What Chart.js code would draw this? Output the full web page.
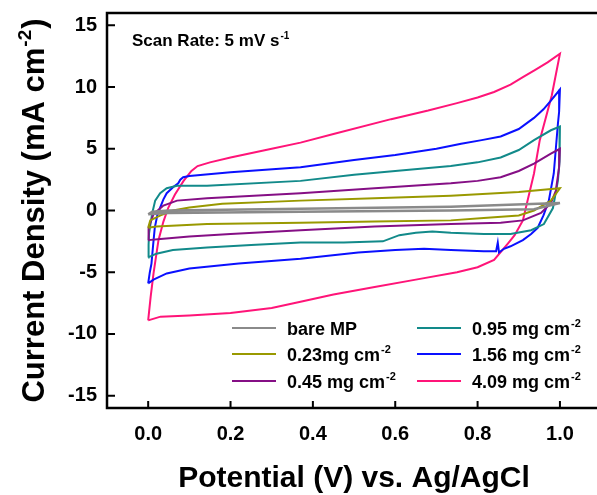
<!DOCTYPE html>
<html>
<head>
<meta charset="utf-8">
<script src="https://cdn.jsdelivr.net/npm/chart.js@4/dist/chart.umd.min.js"></script>
<style>
  html, body { margin: 0; padding: 0; background: #fff; }
  canvas { display: block; }
</style>
</head>
<body>
<canvas id="cvChart" width="597" height="495"></canvas>
<script>
// Cyclic voltammograms, [potential V, current density mA cm-2], anodic sweep then cathodic
const bareMP = [[0, -0.3], [0.01, -0.1], [0.05, 0], [0.37, 0.15], [0.735, 0.3], [1.0, 0.6],
  [0.937, 0.1], [0.735, 0], [0.37, -0.1], [0.05, -0.2], [0, -0.3]];

const load023 = [[0, -1.4], [0.005, -0.8], [0.03, -0.4], [0.06, 0], [0.1, 0.24], [0.18, 0.55],
  [0.37, 0.8], [0.55, 1.0], [0.735, 1.2], [0.9, 1.5], [1.0, 1.8],
  [0.978, 0.8], [0.937, 0], [0.9, -0.4], [0.815, -0.6], [0.735, -0.8], [0.55, -0.9],
  [0.37, -1.0], [0.143, -1.1], [0.02, -1.3], [0, -1.4]];

const load045 = [[0, -2.4], [0.001, -1.4], [0.013, -0.3], [0.037, 0.4], [0.07, 0.8], [0.143, 1.0],
  [0.37, 1.4], [0.55, 1.8], [0.735, 2.2], [0.8, 2.4], [0.856, 2.7], [0.9, 3.2], [0.937, 3.8],
  [0.978, 4.6], [1.0, 5.0],
  [0.998, 3.5], [0.99, 1.6], [0.978, 0.6], [0.954, -0.2], [0.91, -0.8], [0.856, -1.0],
  [0.735, -1.1], [0.55, -1.3], [0.37, -1.6], [0.2, -1.9], [0.1, -2.1], [0.03, -2.3], [0, -2.4]];

const load095 = [[0, -3.8], [0.001, -2.8], [0.002, -1.9], [0.006, -1.0], [0.01, -0.2], [0.017, 0.8],
  [0.029, 1.4], [0.045, 1.8], [0.07, 2.0], [0.143, 2.0], [0.37, 2.4], [0.5, 2.9], [0.6, 3.2],
  [0.735, 3.6], [0.8, 3.9], [0.856, 4.3], [0.9, 4.9], [0.937, 5.7], [0.978, 6.5], [1.0, 6.8],
  [1.0, 5.7], [0.998, 4.0], [0.995, 2.4], [0.983, 0.2], [0.961, -1.1], [0.93, -1.6], [0.88, -1.9],
  [0.815, -1.9], [0.735, -1.8], [0.69, -1.7], [0.65, -1.8], [0.61, -2.0], [0.57, -2.5],
  [0.475, -2.6], [0.37, -2.6], [0.25, -2.8], [0.143, -3.0], [0.06, -3.2], [0.02, -3.5], [0, -3.8]];

const load156 = [[0, -5.9], [0.004, -5.0], [0.008, -4.3], [0.012, -2.8], [0.016, -1.4], [0.022, -0.4],
  [0.029, 0.24], [0.037, 0.9], [0.045, 1.4], [0.061, 1.9], [0.073, 2.2], [0.078, 2.5], [0.085, 2.7],
  [0.1, 2.8], [0.2, 3.1], [0.37, 3.5], [0.5, 4.1], [0.6, 4.5], [0.7, 5.0], [0.76, 5.4], [0.81, 5.7],
  [0.856, 6.0], [0.9, 6.6], [0.937, 7.5], [0.96, 8.2], [0.978, 8.9], [1.0, 9.8],
  [0.998, 8.0], [0.995, 7.0], [0.99, 5.0], [0.985, 3.0], [0.973, 0.8], [0.96, -0.4], [0.946, -1.4],
  [0.93, -1.9], [0.91, -2.4], [0.88, -2.9], [0.864, -3.1], [0.852, -3.4], [0.849, -2.6],
  [0.845, -3.3], [0.815, -3.3], [0.735, -3.2], [0.67, -3.1], [0.6, -3.2], [0.51, -3.4],
  [0.37, -3.9], [0.22, -4.3], [0.1, -4.7], [0.045, -5.1], [0.013, -5.6], [0, -5.9]];

const load409 = [[0, -8.9], [0.006, -7.0], [0.013, -5.1], [0.025, -2.4], [0.037, -0.9], [0.049, 0.24],
  [0.065, 1.3], [0.086, 2.4], [0.105, 3.2], [0.12, 3.6], [0.15, 3.9], [0.2, 4.3], [0.3, 5.0],
  [0.37, 5.5], [0.45, 6.2], [0.59, 7.4], [0.68, 8.1], [0.75, 8.7], [0.8, 9.15], [0.84, 9.6],
  [0.88, 10.2], [0.91, 10.8], [0.94, 11.4], [0.97, 12.0], [1.0, 12.7],
  [0.98, 9.3], [0.951, 5.7], [0.937, 3.0], [0.92, 0.6], [0.91, -0.8], [0.89, -2.0], [0.873, -2.7],
  [0.84, -4.0], [0.8, -4.6], [0.75, -5.0], [0.65, -5.6], [0.55, -6.2], [0.45, -6.8], [0.37, -7.4],
  [0.3, -7.9], [0.2, -8.3], [0.1, -8.5], [0.03, -8.6], [0, -8.9]];

const seriesData = [bareMP, load023, load045, load095, load156, load409];
const seriesLabels = ['bare MP', '0.23mg cm^-2', '0.45 mg cm^-2', '0.95 mg cm^-2', '1.56 mg cm^-2', '4.09 mg cm^-2'];
const seriesColors = ['#8a8a8a', '#999900', '#850f85', '#128a8a', '#0a10ff', '#ff1478'];
const seriesWidths = [2.5, 2, 2, 2, 2, 2];

const xTicks = [0, 0.2, 0.4, 0.6, 0.8, 1.0];
const yTicks = [-15, -10, -5, 0, 5, 10, 15];

const FONT = 'Arial, "Liberation Sans", sans-serif';

// draws text where "^xx" marks a superscript tail, returns width
function richText(ctx, str, x, y, size, measureOnly) {
    const parts = str.split('^');
    let cx = x;
    ctx.font = 'bold ' + size + 'px ' + FONT;
    if (!measureOnly) ctx.fillText(parts[0], cx, y);
    cx += ctx.measureText(parts[0]).width;
    if (parts[1]) {
        const s = Math.round(size * 0.6);
        ctx.font = 'bold ' + s + 'px ' + FONT;
        if (!measureOnly) ctx.fillText(parts[1], cx + 1, y - size * 0.42);
        cx += ctx.measureText(parts[1]).width + 1;
        if (parts[2]) {
            ctx.font = 'bold ' + size + 'px ' + FONT;
            if (!measureOnly) ctx.fillText(parts[2], cx + 1, y);
            cx += ctx.measureText(parts[2]).width + 1;
        }
    }
    return cx - x;
}

const framePlugin = {
    id: 'frame',
    afterDraw(chart) {
        const ctx = chart.ctx;
        const area = chart.chartArea;
        const xs = chart.scales.x;
        const ys = chart.scales.y;
        ctx.save();
        ctx.fillStyle = '#000';
        ctx.strokeStyle = '#000';

        // axis lines: left, bottom and top
        ctx.lineWidth = 2.5;
        ctx.beginPath();
        ctx.moveTo(chart.width, area.top);
        ctx.lineTo(area.left, area.top);
        ctx.lineTo(area.left, area.bottom);
        ctx.lineTo(chart.width, area.bottom);
        ctx.stroke();

        // inward tick marks
        ctx.lineWidth = 2;
        ctx.beginPath();
        xs.ticks.forEach(t => {
            const px = xs.getPixelForValue(t.value);
            ctx.moveTo(px, area.bottom);
            ctx.lineTo(px, area.bottom - 7);
        });
        ys.ticks.forEach(t => {
            const py = ys.getPixelForValue(t.value);
            ctx.moveTo(area.left, py);
            ctx.lineTo(area.left + 8, py);
        });
        ctx.stroke();

        ctx.textBaseline = 'alphabetic';
        ctx.textAlign = 'left';

        // x axis title
        const xTitle = 'Potential (V) vs. Ag/AgCl';
        ctx.font = 'bold 30px ' + FONT;
        const xw = ctx.measureText(xTitle).width;
        ctx.fillText(xTitle, (area.left + chart.width) / 2 + 2 - xw / 2, 487);

        // y axis title
        const yTitle = 'Current Density (mA cm^-2^)';
        const yw = richText(ctx, yTitle, 0, 0, 31, true);
        ctx.save();
        ctx.translate(44, (area.top + area.bottom) / 2);
        ctx.rotate(-Math.PI / 2);
        richText(ctx, yTitle, -yw / 2, 0, 31, false);
        ctx.restore();

        // scan rate note
        richText(ctx, 'Scan Rate: 5 mV s^-1', 132, 46, 17, false);

        // legend, two columns of three
        const rowY = [328, 354, 381];
        const colX = [232, 417];
        chart.data.datasets.forEach((ds, i) => {
            const col = Math.floor(i / 3);
            const y = rowY[i % 3];
            const x0 = colX[col];
            ctx.strokeStyle = ds.borderColor;
            ctx.lineWidth = 2;
            ctx.beginPath();
            ctx.moveTo(x0, y);
            ctx.lineTo(x0 + 44, y);
            ctx.stroke();
            ctx.fillStyle = '#000';
            richText(ctx, ds.label, x0 + 55, y + 7, 18, false);
        });
        ctx.restore();
    }
};

new Chart(document.getElementById('cvChart'), {
    type: 'scatter',
    data: {
        datasets: seriesData.map((pts, i) => ({
            label: seriesLabels[i],
            data: pts.map(p => ({ x: p[0], y: p[1] })),
            showLine: true,
            borderColor: seriesColors[i],
            borderWidth: seriesWidths[i],
            pointRadius: 0,
            fill: false,
            tension: 0
        }))
    },
    options: {
        responsive: false,
        animation: false,
        layout: { padding: { top: 13, left: 0, right: 0, bottom: 0 } },
        plugins: {
            legend: { display: false },
            tooltip: { enabled: false }
        },
        scales: {
            x: {
                type: 'linear',
                min: -0.1,
                max: 1.09,
                afterBuildTicks: s => { s.ticks = xTicks.map(v => ({ value: v })); },
                afterFit: s => {
                    s.height = 87;
                    s.paddingLeft = 0;
                    s.paddingRight = 0;
                },
                grid: { display: false, drawTicks: false },
                border: { display: false },
                ticks: {
                    padding: 14,
                    color: '#000',
                    font: { family: FONT, size: 20, weight: 'bold' },
                    callback: v => v.toFixed(1)
                }
            },
            y: {
                type: 'linear',
                min: -16,
                max: 16,
                afterBuildTicks: s => { s.ticks = yTicks.map(v => ({ value: v })); },
                afterFit: s => {
                    s.width = 107;
                    s.paddingTop = 0;
                    s.paddingBottom = 0;
                },
                grid: { display: false, drawTicks: false },
                border: { display: false },
                ticks: {
                    padding: 10,
                    color: '#000',
                    font: { family: FONT, size: 20, weight: 'bold' },
                    callback: v => String(v)
                }
            }
        }
    },
    plugins: [framePlugin]
});
</script>
</body>
</html>
